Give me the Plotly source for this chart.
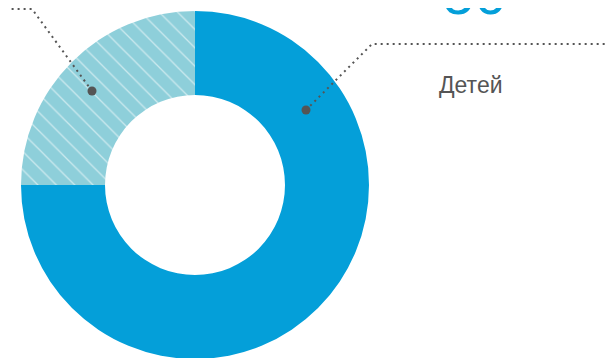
import plotly.graph_objects as go

# Data
labels = ["Дети", "Другие"]
values = [75, 25]
colors = ["#049fd9", "#8ecfda"]
big_number = "56"
caption = "Детей"

# Leader line paths (pixel coordinates in the page)
leader_right_x = [306, 372, 624]
leader_right_y = [110, 44, 44]
leader_left_x = [92, 32, 0]
leader_left_y = [91, 9, 9]

W, H = 616, 358
OFF = 8  # default page body margin


def px(X):
    return (X - OFF) / W


def py(Y):
    return 1 - (Y - OFF) / H


fig = go.Figure()

cx, cy, R = 195, 185, 174
fig.add_trace(go.Pie(
    labels=labels, values=values, sort=False, direction="clockwise", rotation=0,
    hole=90 / R, textinfo="none", hoverinfo="skip", showlegend=False,
    marker=dict(colors=colors, line=dict(width=0),
                pattern=dict(shape=["", "\\"], fgcolor="white", bgcolor=colors,
                             fgopacity=0.55, size=13, solidity=0.1)),
    domain=dict(x=[px(cx - R), px(cx + R)], y=[py(cy + R), py(cy - R)]),
))

for xs, ys in [(leader_right_x, leader_right_y), (leader_left_x, leader_left_y)]:
    path = "M " + " L ".join(f"{px(a)},{py(b)}" for a, b in zip(xs, ys))
    fig.add_shape(type="path", path=path, xref="paper", yref="paper", layer="above",
                  line=dict(color="#555555", width=2, dash="2px,4px"))
    r = 4.5
    fig.add_shape(type="circle", xref="paper", yref="paper", layer="above",
                  x0=px(xs[0] - r), x1=px(xs[0] + r), y0=py(ys[0] + r), y1=py(ys[0] - r),
                  fillcolor="#555555", line=dict(width=0))

fig.add_annotation(text=big_number, xref="paper", yref="paper", x=px(474), y=py(-6),
                   xanchor="center", yanchor="middle", showarrow=False,
                   font=dict(family="Liberation Sans", size=56, color="#049fd9"))
fig.add_annotation(text=caption, xref="paper", yref="paper", x=px(471), y=py(85),
                   xanchor="center", yanchor="middle", showarrow=False,
                   font=dict(family="Liberation Sans", size=23, color="#555555"))

fig.update_layout(
    width=W, height=H, margin=dict(l=0, r=0, t=0, b=0),
    paper_bgcolor="white", plot_bgcolor="rgba(0,0,0,0)",
)

fig.write_html("out.html")
